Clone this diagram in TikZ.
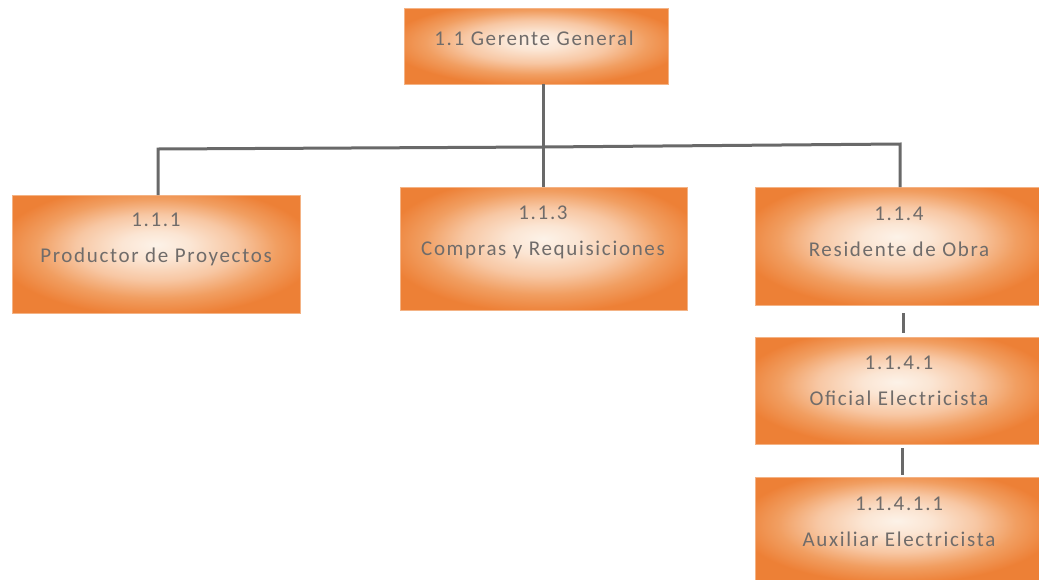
\documentclass[tikz,border=0pt]{standalone}
\usepackage{fontspec}
\setmainfont{Carlito}[LetterSpace=8]
\definecolor{boxorange}{RGB}{237,128,52}
\definecolor{txtgray}{RGB}{112,108,106}
\definecolor{linegray}{RGB}{105,105,105}
\pgfdeclareradialshading{orgshade}{\pgfpoint{0bp}{4bp}}{%
  rgb(0bp)=(0.99,0.95,0.91);
  rgb(6bp)=(0.985,0.90,0.83);
  rgb(14bp)=(0.97,0.78,0.64);
  rgb(21bp)=(0.945,0.62,0.38);
  rgb(28bp)=(0.93,0.50,0.21);
  rgb(50bp)=(0.93,0.50,0.21)}
\tikzset{
  orgbox/.style={rectangle, inner sep=0pt, outer sep=0pt, shading=orgshade,
    draw=boxorange!60, line width=0.6pt},
  orgtext/.style={text=txtgray, font=\fontsize{21}{36}\selectfont, align=center, inner sep=0pt},
  link/.style={draw=linegray, line width=3pt}
}
\begin{document}
\begin{tikzpicture}[x=1pt,y=-1pt]
\useasboundingbox (0,0) rectangle (1039,579);
\node[orgbox, minimum width=264pt, minimum height=76pt] (gg) at (536,46) {};
\node[orgtext] (ggt) at (534,38) {1.1 Gerente General};
\node[orgbox, minimum width=288pt, minimum height=118pt] (pp) at (156,254) {};
\node[orgtext] (ppt) at (156,239) {1.1.1\\Productor de Proyectos};
\node[orgbox, minimum width=287pt, minimum height=123pt] (cr) at (543.5,248.5) {};
\node[orgtext] (crt) at (543,232) {1.1.3\\Compras y Requisiciones};
\node[orgbox, minimum width=284pt, minimum height=118pt] (ro) at (897,246) {};
\node[orgtext] (rot) at (899,232) {1.1.4\\Residente de Obra};
\node[orgbox, minimum width=284pt, minimum height=107pt] (oe) at (897,390.5) {};
\node[orgtext] (oet) at (899,381) {1.1.4.1\\Oficial Electricista};
\node[orgbox, minimum width=284pt, minimum height=104pt] (ae) at (897,529) {};
\node[orgtext] (aet) at (899,522) {1.1.4.1.1\\Auxiliar Electricista};
\coordinate (bus) at (543,147);
\coordinate (busl) at (158,149);
\coordinate (busr) at (900,144);
\draw[link] (gg.south -| bus) -- (cr.north -| bus);
\draw[link] (busl |- pp.north) -- (busl) -- (bus) -- (busr) -- (busr |- ro.north);
\draw[link] ([yshift=-8pt]ro.south -| 903,0) -- ([yshift=4pt]oe.north -| 903,0);
\draw[link] ([yshift=-4pt]oe.south -| 902,0) -- ([yshift=2pt]ae.north -| 902,0);
\end{tikzpicture}
\end{document}
